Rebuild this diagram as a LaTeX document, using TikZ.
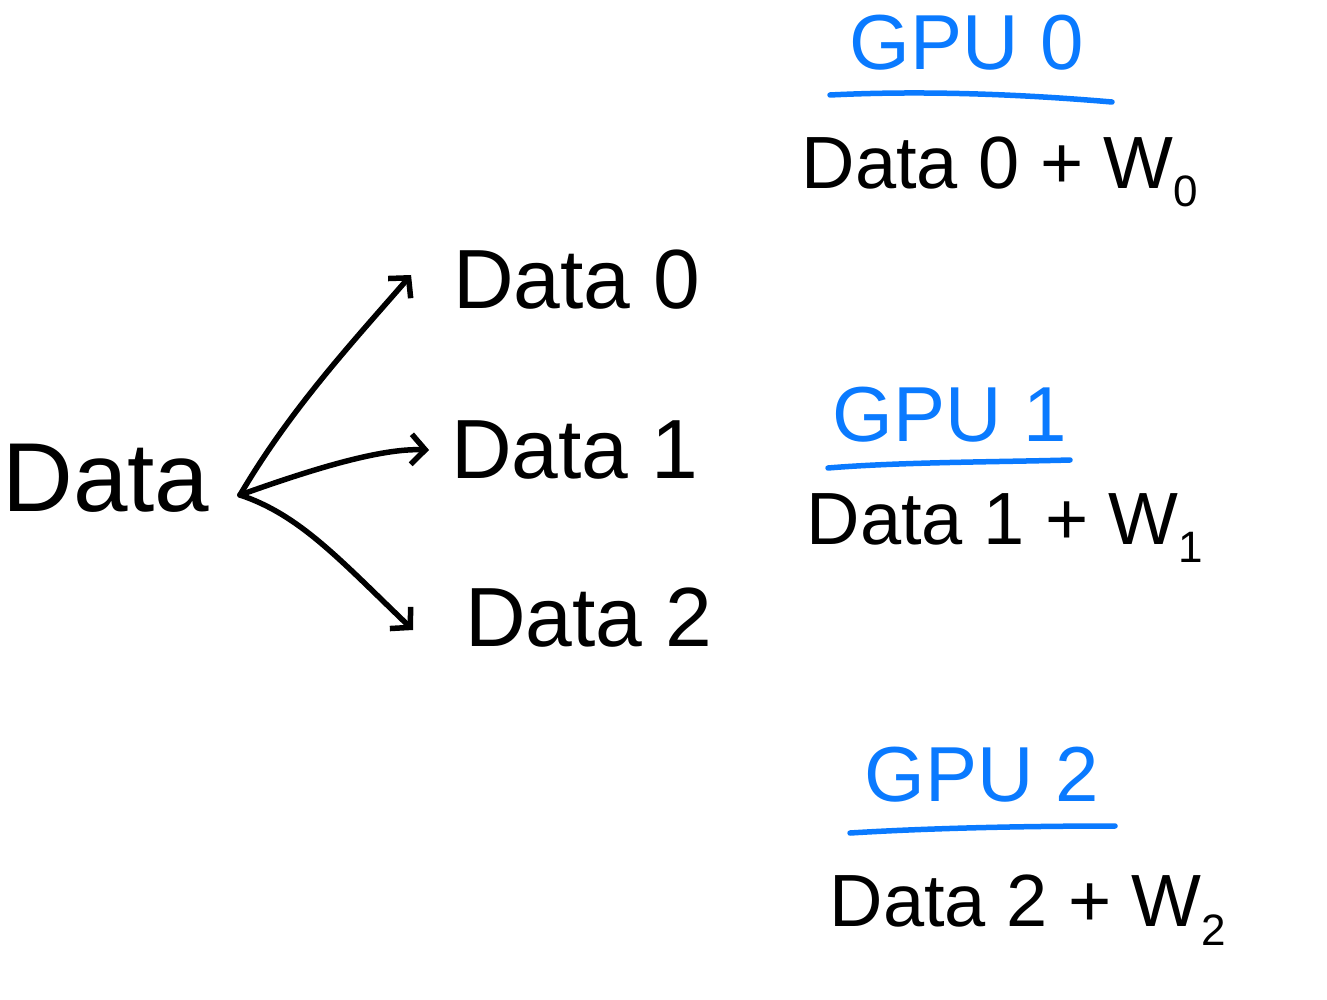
\documentclass[tikz,border=0pt]{standalone}
\usepackage{fontspec}
\setmainfont{Liberation Sans}
\usetikzlibrary{arrows.meta}
\definecolor{gpublue}{HTML}{0A7AFF}
\newcommand{\mysub}[1]{\raisebox{-0.25em}{\fontsize{44}{48}\selectfont #1}}
\begin{document}
\begin{tikzpicture}[x=1pt,y=-1pt,
  txt/.style={inner sep=0pt,text=black},
  big/.style={txt,font=\fontsize{98}{110}\selectfont},
  mid/.style={txt,font=\fontsize{84}{90}\selectfont},
  sum/.style={txt,font=\fontsize{74}{80}\selectfont},
  gpu/.style={inner sep=0pt,text=gpublue,font=\fontsize{78}{84}\selectfont},
  uline/.style={draw=gpublue,line width=5.5pt,line cap=round},
  conn/.style={draw=black,line width=5.5pt,line cap=round,line join=round,
    -{Straight Barb[length=14pt,width=30pt,line width=5.5pt]}}]
\useasboundingbox (0,0) rectangle (1327,1000);
\fill[white] (0,0) rectangle (1327,1000);
% left
\node[big] (d) at (106,478) {Data};
\coordinate (src) at (240,495);
% targets
\node[mid] (d0) at (577,280) {Data 0};
\node[mid] (d1) at (575,450) {Data 1};
\node[mid] (d2) at (589,618) {Data 2};
% connectors
\draw[conn] (src) .. controls (290,410) and (350,345) .. ([xshift=-42pt,yshift=5pt]d0.west);
\draw[conn] (src) .. controls (310,470) and (380,448) .. ([xshift=-22pt]d1.west);
\draw[conn] (src) .. controls (300,515) and (340,560) .. ([xshift=-52pt,yshift=-12pt]d2.west);
% GPU blocks
\node[gpu] (g0) at (967,43) {GPU 0};
\coordinate (u0a) at (830,95);
\coordinate (u0b) at (1112,102);
\draw[uline] (u0a) .. controls (930,90) and (1030,95) .. (u0b);
\node[sum] (e0) at (1000,172) {Data 0 + W\mysub{0}};

\node[gpu] (g1) at (950,415) {GPU 1};
\coordinate (u1a) at (828,468);
\coordinate (u1b) at (1070,460);
\draw[uline] (u1a) .. controls (900,462) and (1000,462) .. (u1b);
\node[sum] (e1) at (1005,528) {Data 1 + W\mysub{1}};

\node[gpu] (g2) at (982,775) {GPU 2};
\coordinate (u2a) at (850,833);
\coordinate (u2b) at (1115,826);
\draw[uline] (u2a) .. controls (930,828) and (1030,826) .. (u2b);
\node[sum] (e2) at (1028,910) {Data 2 + W\mysub{2}};
\end{tikzpicture}
\end{document}
